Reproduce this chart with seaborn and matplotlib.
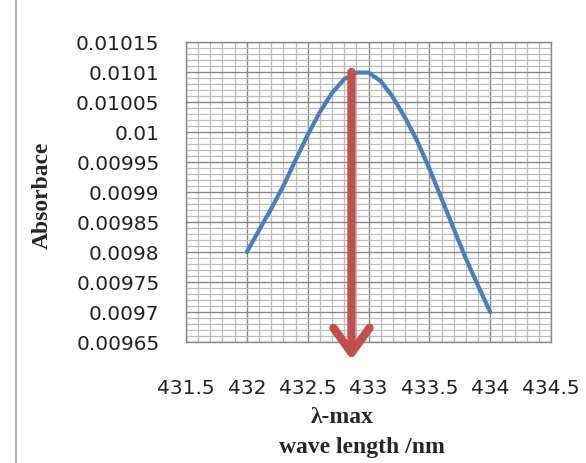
import matplotlib
matplotlib.use('Agg')
import matplotlib.pyplot as plt
import matplotlib.patches as patches
from matplotlib.ticker import MultipleLocator
import seaborn as sns

# values
wavelength = [432.0, 432.1, 432.2, 432.3, 432.4, 432.5, 432.6, 432.7, 432.8, 432.9, 433.0,
              433.1, 433.2, 433.3, 433.4, 433.5, 433.6, 433.7, 433.8, 433.9, 434.0]
absorbance = [0.00980, 0.009836, 0.009872, 0.009910, 0.009953, 0.009995, 0.010033, 0.010065,
              0.010088, 0.010099, 0.010099, 0.010085, 0.010058, 0.010024, 0.009985, 0.009939,
              0.009889, 0.009839, 0.009789, 0.009744, 0.00970]

x_ticks = [431.5, 432, 432.5, 433, 433.5, 434, 434.5]
x_labels = ['431.5', '432', '432.5', '433', '433.5', '434', '434.5']
y_ticks = [0.00965, 0.0097, 0.00975, 0.0098, 0.00985, 0.0099, 0.00995,
           0.01, 0.01005, 0.0101, 0.01015]
y_labels = ['0.00965', '0.0097', '0.00975', '0.0098', '0.00985', '0.0099', '0.00995',
            '0.01', '0.01005', '0.0101', '0.01015']

lambda_max = 432.86
arrow_top = 0.0101
arrow_tip = 0.00962

sns.set_style('white')
plt.rcParams['font.family'] = ['DejaVu Sans']

fig = plt.figure(figsize=(5.86, 4.64), dpi=100)
ax = fig.add_axes([0.3174, 0.2608, 0.6229, 0.6466])

sns.lineplot(x=wavelength, y=absorbance, color='#4a7ebb', lw=3, ax=ax,
             solid_joinstyle='round', solid_capstyle='round')

ax.set_xlim(431.5, 434.5)
ax.set_ylim(0.00965, 0.01015)
ax.set_xticks(x_ticks)
ax.set_xticklabels(x_labels)
ax.set_yticks(y_ticks)
ax.set_yticklabels(y_labels)
ax.xaxis.set_minor_locator(MultipleLocator(0.1))
ax.yaxis.set_minor_locator(MultipleLocator(0.00001))

ax.grid(which='major', color='#888888', lw=1.0)
ax.grid(which='minor', color='#bcbcbc', lw=0.9)
ax.set_axisbelow(True)

for s in ax.spines.values():
    s.set_color('#888888')
    s.set_linewidth(1.0)

ax.tick_params(axis='x', which='major', direction='out', length=7, width=1,
               color='#888888', pad=19, labelsize=14.5, labelcolor='#222222')
ax.tick_params(axis='y', which='major', direction='out', length=6, width=1,
               color='#888888', pad=13, labelsize=14.5, labelcolor='#222222')
ax.tick_params(which='minor', length=0)

ax.annotate('', xy=(lambda_max, arrow_tip), xytext=(lambda_max, arrow_top),
            annotation_clip=False,
            arrowprops=dict(arrowstyle='->,head_length=0.9,head_width=0.65',
                            color='#c0504d', lw=6, mutation_scale=20,
                            shrinkA=0, shrinkB=0))

fig.text(42 / 586, 1 - 195 / 464, 'Absorbace', rotation=90, ha='center', va='center',
         family='Liberation Serif', fontweight='bold', fontsize=17)
fig.text(342 / 586, 1 - 418 / 464, 'λ-max', ha='center', va='center',
         family='Liberation Serif', fontweight='bold', fontsize=17)
fig.text(362 / 586, 1 - 448 / 464, 'wave length /nm', ha='center', va='center',
         family='Liberation Serif', fontweight='bold', fontsize=17)

# chart area border
fig.patches.append(patches.Rectangle((16 / 586, -0.2), 1.2, 1.2 + 1 - 14 / 464,
                                     transform=fig.transFigure, fill=False,
                                     edgecolor='#b4b4b4', lw=1.5))

fig.savefig('out.png', dpi=100)
